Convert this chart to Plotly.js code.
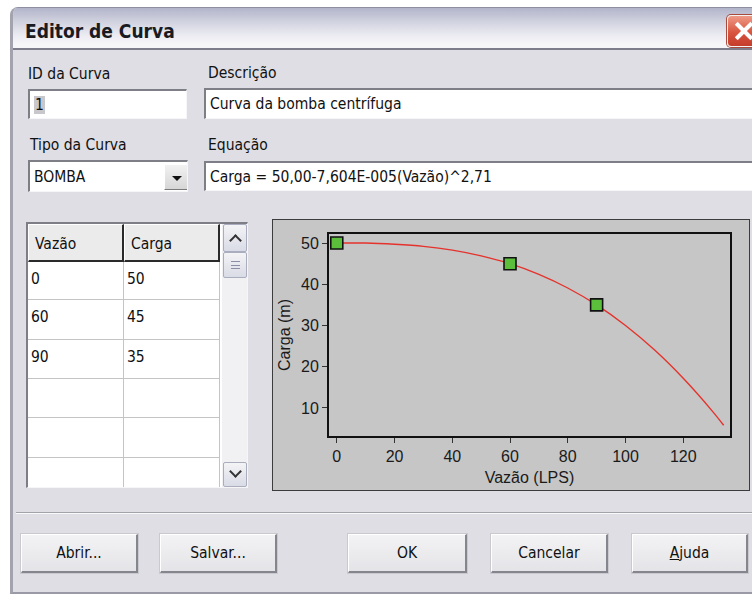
<!DOCTYPE html>
<html>
<head>
<meta charset="utf-8">
<script src="https://cdn.plot.ly/plotly-3.0.1.min.js"></script>
<style>
  html, body { margin:0; padding:0; background:#ffffff; width:752px; height:594px; overflow:hidden; }
  * { box-sizing:border-box; }
  .ui { font-family:"DejaVu Sans Condensed","Liberation Sans",sans-serif; color:#111; }
  #win { position:absolute; left:10px; top:7px; width:760px; height:587px; background:#dfdee4;
         border-left:3px solid #a3a3ae; border-bottom:2px solid #9a9aa6; border-top-left-radius:8px; overflow:hidden; }
  #titlebar { position:absolute; left:0; top:0; width:760px; height:43px;
         background:linear-gradient(#b2b4ca 0%, #cdcfdd 30%, #e9e9f0 65%, #f6f6f9 90%);
         border-top:1px solid #8e8ea0; border-bottom:2px solid #7c7c8a; }
  #title { position:absolute; left:12px; top:12px; font-weight:bold; font-size:19px; color:#1a1a22; }
  #close { position:absolute; left:714px; top:7px; width:34px; height:32px; border-radius:4px;
         background:linear-gradient(#ee9a86, #d8553f 55%, #c43d2b); border:1px solid #f3f3f3; box-shadow:0 0 0 1px #a84a3c; }
  .xbar { position:absolute; left:5px; top:13px; width:22px; height:4px; background:#fff; }
  .lbl { position:absolute; font-size:15.5px; }
  .field { position:absolute; background:#fff; border-top:2px solid #7e7e86; border-left:2px solid #7e7e86;
           border-right:1px solid #f6f6f8; border-bottom:1px solid #f6f6f8; font-size:15.5px; padding:5px 0 0 4px; white-space:nowrap; overflow:hidden; }
  #dropbtn { position:absolute; left:134px; top:2px; width:24px; height:26px; background:linear-gradient(#f2f2f2,#d6d6d6);
             border-top:1px solid #fff; border-left:1px solid #fff; border-right:1px solid #7a7a7a; border-bottom:1px solid #7a7a7a; }
  #dropbtn:after { content:""; position:absolute; left:7px; top:11px; border-left:5px solid transparent; border-right:5px solid transparent; border-top:5px solid #111; }
  #table { position:absolute; left:26px; top:222px; width:222px; height:266px; background:#fff; overflow:hidden;
           border-top:2px solid #7e7e86; border-left:2px solid #7e7e86; border-right:1px solid #f6f6f8; border-bottom:1px solid #f6f6f8; }
  .cell { position:absolute; font-size:15.5px; padding:8px 0 0 3px; border-right:1px solid #c4c4c4; border-bottom:1px solid #c4c4c4; overflow:hidden; }
  .hdr { background:#ebebeb; border-right:2px solid #2a2a2a; border-bottom:2px solid #2a2a2a; border-top:1px solid #fff; border-left:1px solid #fff; padding:10px 0 0 6px; }
  #scroll { position:absolute; left:194px; top:0; width:26px; height:264px; background:#f1f1f3; }
  .sbtn { position:absolute; left:1px; width:24px; background:linear-gradient(#f4f4f6,#d9dbe6); border:1px solid #a9adbd; border-radius:2px; }
  .arr { position:absolute; left:7px; width:9px; height:9px; border-left:2.5px solid #333; border-top:2.5px solid #333; }
  #plotwrap { position:absolute; left:272px; top:219px; width:478px; height:272px; border:1px solid #3c3c3c; background:#c6c6c6; }
  #plot { position:absolute; left:0; top:0; width:476px; height:270px; }
  #sep { position:absolute; left:3px; top:505px; width:760px; height:2px; border-top:1px solid #a2a2aa; border-bottom:1px solid #fafafa; }
  .btn { position:absolute; top:527px; height:39px; font-size:15.5px; text-align:center; line-height:36px;
         background:linear-gradient(#f3f3f5,#e4e4e8); border-top:1px solid #fff; border-left:1px solid #fff;
         border-right:2px solid #85858d; border-bottom:2px solid #85858d; box-shadow:0 0 0 1px #c9c9cf; }
</style>
</head>
<body>
<script>
// ---- data ----
const pointFlow = [0, 60, 90];          // Vazão (LPS) of the defined points
const pointHead = [50, 45, 35];         // Carga (m) of the defined points
const curveFlow = [0, 10, 20, 30, 40, 50, 60, 70, 80, 90, 100, 110, 120, 130, 134];
const curveHead = [50.0, 50.0, 49.7, 49.2, 48.3, 46.9, 45.0, 42.4, 39.1, 35.0, 30.0, 24.1, 17.2, 9.3, 5.8];
const xTicks = [0, 20, 40, 60, 80, 100, 120];
const yTicks = [10, 20, 30, 40, 50];
const tableHeaders = ["Vazão", "Carga"];
const xTitle = "Vazão (LPS)";
const yTitle = "Carga (m)";
</script>

<div id="win" class="ui">
  <div id="titlebar"><div id="title">Editor de Curva</div>
    <div id="close"><div class="xbar" style="transform:rotate(45deg);"></div><div class="xbar" style="transform:rotate(-45deg);"></div></div>
  </div>

  <div class="lbl" style="left:15px;top:58px;">ID da Curva</div>
  <div class="field" style="left:15px;top:82px;width:159px;height:30px;"><span style="background:#c8c8cc;padding:0 1px;">1</span></div>

  <div class="lbl" style="left:195px;top:57px;">Descrição</div>
  <div class="field" style="left:191px;top:81px;width:580px;height:31px;">Curva da bomba centrífuga</div>

  <div class="lbl" style="left:17px;top:129px;">Tipo da Curva</div>
  <div class="field" style="left:15px;top:153px;width:160px;height:32px;padding-top:6px;">BOMBA<div id="dropbtn"></div></div>

  <div class="lbl" style="left:195px;top:129px;">Equação</div>
  <div class="field" style="left:191px;top:154px;width:580px;height:30px;">Carga = 50,00-7,604E-005(Vazão)^2,71</div>

  <div id="sep"></div>
  <div class="btn" style="left:8px;width:117px;">Abrir...</div>
  <div class="btn" style="left:147px;width:117px;">Salvar...</div>
  <div class="btn" style="left:335px;width:119px;">OK</div>
  <div class="btn" style="left:478px;width:117px;">Cancelar</div>
  <div class="btn" style="left:619px;width:116px;"><u>A</u>juda</div>
</div>

<div id="table" class="ui">
  <div id="scroll">
    <div class="sbtn" style="top:0;height:28px;"><div class="arr" style="top:11px;transform:rotate(45deg);"></div></div>
    <div class="sbtn" style="top:28px;height:26px;">
      <div style="position:absolute;left:7px;top:8px;width:9px;height:8px;border-top:1px solid #8a8fa6;border-bottom:1px solid #8a8fa6;"></div>
      <div style="position:absolute;left:7px;top:12px;width:9px;height:1px;background:#8a8fa6;"></div>
    </div>
    <div class="sbtn" style="top:238px;height:25px;"><div class="arr" style="top:4px;transform:rotate(225deg);"></div></div>
  </div>
</div>

<div id="plotwrap"><div id="plot"></div></div>

<script>
// build table from data arrays
(function(){
  const t = document.getElementById('table');
  const scroll = document.getElementById('scroll');
  const colX = [0, 96], colW = [96, 96];
  const rowTop = [38, 76, 116, 155, 194, 234], rowH = [38, 40, 39, 39, 40, 40];
  tableHeaders.forEach((h, c) => {
    const d = document.createElement('div');
    d.className = 'cell hdr';
    d.style.cssText = `left:${colX[c]}px;top:0px;width:${colW[c]}px;height:38px;`;
    d.textContent = h; t.insertBefore(d, scroll);
  });
  for (let r = 0; r < rowTop.length; r++) {
    for (let c = 0; c < 2; c++) {
      const d = document.createElement('div');
      d.className = 'cell';
      d.style.cssText = `left:${colX[c]}px;top:${rowTop[r]}px;width:${colW[c]}px;height:${rowH[r]}px;`;
      if (r < pointFlow.length) d.textContent = c === 0 ? pointFlow[r] : pointHead[r];
      t.insertBefore(d, scroll);
    }
  }
})();

const font = {family: '"Liberation Sans",Arial,sans-serif', size: 16, color: '#1a1a1a'};
const traces = [
  {x: curveFlow, y: curveHead, type: 'scatter', mode: 'lines', line: {color: '#e5322c', width: 1.4, shape: 'spline'}, hoverinfo: 'skip'},
  {x: pointFlow, y: pointHead, type: 'scatter', mode: 'markers', cliponaxis: false,
   marker: {symbol: 'square', size: 12, color: '#5bbf3c', line: {color: '#111', width: 1.6}}}
];
const layout = {
  width: 476, height: 270,
  margin: {l: 56, r: 19, t: 14, b: 54},
  paper_bgcolor: '#c6c6c6', plot_bgcolor: '#c6c6c6',
  showlegend: false, font: font,
  xaxis: {range: [-2.7, 136.2], tickvals: xTicks, ticks: 'outside', ticklen: 5, tickwidth: 1, tickcolor: '#333',
          showgrid: false, zeroline: false, showline: true, mirror: true, linecolor: '#111', linewidth: 2,
          title: {text: xTitle, font: font, standoff: 8}, automargin: false},
  yaxis: {range: [3.2, 52.2], tickvals: yTicks, ticks: 'outside', ticklen: 5, tickwidth: 1, tickcolor: '#333',
          showgrid: false, zeroline: false, showline: true, mirror: true, linecolor: '#111', linewidth: 2,
          title: {text: yTitle, font: font, standoff: 6}, automargin: false}
};
Plotly.newPlot('plot', traces, layout, {staticPlot: true, displayModeBar: false});
</script>
</body>
</html>
